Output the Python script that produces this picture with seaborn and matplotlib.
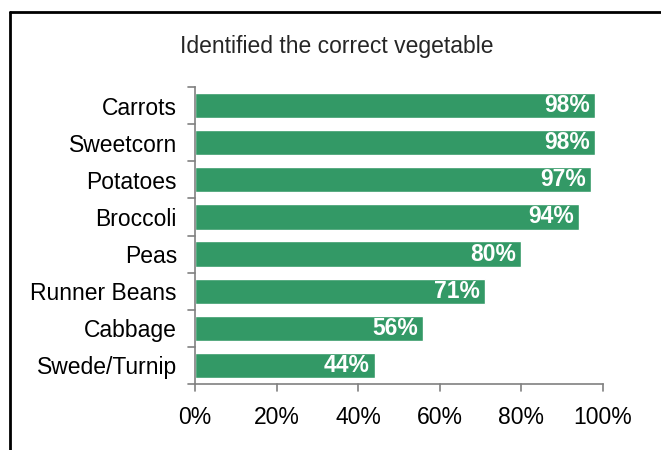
import matplotlib
matplotlib.use("Agg")
import matplotlib.pyplot as plt
import seaborn as sns
import pandas as pd
from matplotlib.lines import Line2D

categories = ["Carrots", "Sweetcorn", "Potatoes", "Broccoli", "Peas",
              "Runner Beans", "Cabbage", "Swede/Turnip"]
values = [98, 98, 97, 94, 80, 71, 56, 44]
xticks = [0, 20, 40, 60, 80, 100]
xtick_labels = ["0%", "20%", "40%", "60%", "80%", "100%"]
title = "Identified the correct vegetable"

sns.set_theme(style="white")
plt.rcParams['font.family'] = ['Liberation Sans', 'DejaVu Sans']

df = pd.DataFrame({"veg": categories, "pct": values})

fig = plt.figure(figsize=(6.61, 4.5), dpi=100)
ax = fig.add_axes([195/661, 1 - 384/450, (603-195)/661, (384-87)/450])
sns.barplot(data=df, y="veg", x="pct", color="#339966", saturation=1,
            width=0.68, ax=ax, orient="h")

for p, v in zip(ax.patches, values):
    ax.text(p.get_width() - 1.2, p.get_y() + p.get_height()/2, f"{v}%",
            ha="right", va="center", color="white", fontweight="bold",
            fontsize=16.5)

ax.set_xlim(0, 100)
ax.set_ylim(len(categories) - 0.5, -0.5)
ax.set_xticks(xticks)
ax.set_xticklabels(xtick_labels, fontsize=16.5, color="black")
ax.set_yticks(range(len(categories)))
ax.set_yticklabels(categories, fontsize=16.5, color="black")
ax.tick_params(axis="y", length=0, pad=13)
ax.tick_params(axis="x", length=0, pad=16)
# boundary ticks
for b in [i - 0.5 for i in range(len(categories) + 1)]:
    ax.plot([-1.6, 0], [b, b], color="#808080", lw=1.2, clip_on=False)
for t in xticks:
    ax.plot([t, t], [len(categories) - 0.5, len(categories) - 0.5 + 0.19],
            color="#808080", lw=1.2, clip_on=False)
ax.set_xlabel("")
ax.set_ylabel("")
for s in ["top", "right"]:
    ax.spines[s].set_visible(False)
for s in ["left", "bottom"]:
    ax.spines[s].set_color("#808080")
    ax.spines[s].set_linewidth(1.2)

fig.text(337/661, 1 - 46/450, title, ha="center", va="center", fontsize=16.5)

fig.add_artist(Line2D([10/661, 10/661], [0, 1 - 12/450], color="black", lw=2,
                      transform=fig.transFigure))
fig.add_artist(Line2D([10/661, 1], [1 - 12/450, 1 - 12/450], color="black", lw=2,
                      transform=fig.transFigure))

fig.savefig("out.png", dpi=100)
